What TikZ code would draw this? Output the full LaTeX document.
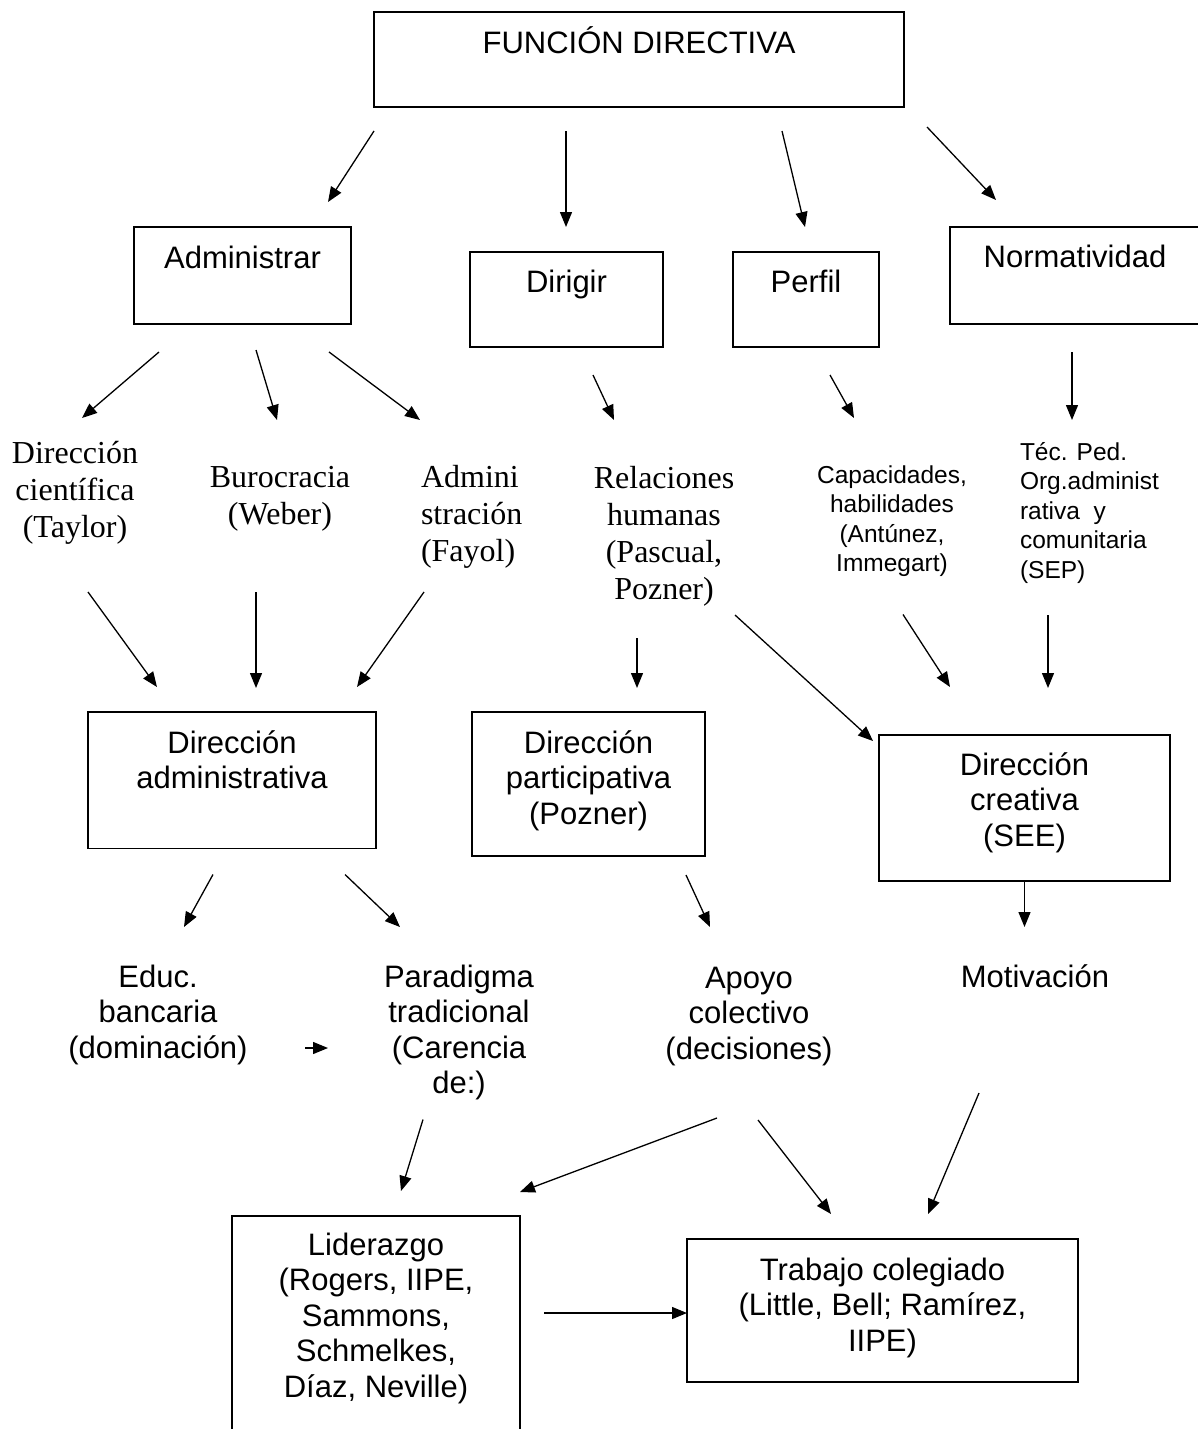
\documentclass[tikz,border=0pt]{standalone}
\usepackage{fontspec}
\setmainfont{Liberation Sans}
\newfontfamily\seriffam{Liberation Serif}
\usetikzlibrary{arrows.meta,calc}
\newcommand\mybig{\fontsize{31}{35.5}\selectfont}
\newcommand\mysmall{\fontsize{24.5}{29.5}\selectfont}
\newcommand\myserif{\seriffam\fontsize{32}{37}\selectfont}
\newcommand\tA[1]{\rule{0pt}{#1pt}}
\newcommand\bD[1]{\rule[-#1pt]{0pt}{#1pt}}
\begin{document}
\begin{tikzpicture}[x=1pt,y=-1pt,
  box/.style={draw, line width=1.6pt, inner sep=0pt, outer sep=0pt, align=center, anchor=north west, font=\mybig},
  txt/.style={inner sep=0pt, outer sep=0pt, align=center, anchor=north},
  arr/.style={line width=1.3pt, -{Triangle[length=15pt,width=12pt]}}]
\fill[white] (0,0) rectangle (1197,1429);
\useasboundingbox (0,0) rectangle (1197,1429);

% boxes
\node[box, minimum width=530pt] (fd) at (374,12) {\tA{41}FUNCIÓN DIRECTIVA\bD{54}};
\node[box, minimum width=217pt] (adm) at (134,227) {\tA{41}Administrar\bD{56}};
\node[box, minimum width=193pt] (dir) at (470,252) {\tA{40}Dirigir\bD{55}};
\node[box, minimum width=146pt] (per) at (733,252) {\tA{40}Perfil\bD{55}};
\node[box, minimum width=250pt] (nor) at (950,227) {\tA{40}Normatividad\bD{57}};
\node[box, minimum width=288pt] (dadm) at (88,712) {\tA{41}Dirección\\administrativa\bD{60}};
\node[box, minimum width=233pt] (dpar) at (472,712) {\tA{41}Dirección\\participativa\\(Pozner)\bD{32}};
\node[box, minimum width=291pt] (dcre) at (879,735) {\tA{40}Dirección\\creativa\\(SEE)\bD{35}};
\node[box, minimum width=288pt] (lid) at (232,1216) {\tA{39}Liderazgo\\(Rogers, IIPE,\\Sammons,\\Schmelkes,\\Díaz, Neville)\bD{50}};
\node[box, minimum width=391pt] (trab) at (687,1239) {\tA{41}Trabajo colegiado\\(Little, Bell; Ramírez,\\IIPE)\bD{31}};

% free texts
\node[txt, font=\myserif] (taylor) at (75,433) {\tA{30}Dirección\\científica\\(Taylor)\bD{10}};
\node[txt, font=\myserif] (weber) at (280,457) {\tA{30}Burocracia\\(Weber)\bD{10}};
\node[txt, font=\myserif, anchor=north west, align=left] (fayol) at (421,457) {\tA{30}Admini\\stración\\(Fayol)\bD{10}};
\node[txt, font=\myserif] (relac) at (664,458) {\tA{30}Relaciones\\humanas\\(Pascual,\\Pozner)\bD{10}};
\node[txt, font=\mysmall] (capac) at (892,459) {\tA{24}Capacidades,\\habilidades\\(Antúnez,\\Immegart)\bD{8}};
\node[txt, font=\mysmall, anchor=north west, align=left] (tecped) at (1020,436) {\tA{24}Téc. Ped.\\Org.administ\\rativa\ \ y\\comunitaria\\(SEP)\bD{8}};
\node[txt, font=\mybig] (educ) at (158,957) {\tA{30}Educ.\\bancaria\\(dominación)\bD{10}};
\node[txt, font=\mybig] (parad) at (459,957) {\tA{30}Paradigma\\tradicional\\(Carencia\\de:)\bD{10}};
\node[txt, font=\mybig] (apoyo) at (749,958) {\tA{30}Apoyo\\colectivo\\(decisiones)\bD{10}};
\node[txt, font=\mybig] (motiv) at (1035,957) {\tA{30}Motivación\bD{10}};

% connectors
\draw[arr] ($(fd.south west)+(0,24)$) -- ($(adm.north west)+(194,-25)$);
\draw[arr] ($(fd.south west)+(192,24)$) -- ($(dir.north west)+(96,-25)$);
\draw[arr] ($(fd.south west)+(408,24)$) -- ($(per.north west)+(72,-25)$);
\draw[arr] ($(fd.south west)+(553,20)$) -- ($(nor.north west)+(46,-27)$);
\draw[arr] ($(adm.south west)+(25,28)$) -- ($(taylor.north)+(7,-15)$);
\draw[arr] ($(adm.south west)+(122,26)$) -- ($(weber.north)+(-3,-37)$);
\draw[arr] ($(adm.south west)+(195,28)$) -- ($(fayol.north west)+(-1,-37)$);
\draw[arr] ($(dir.south west)+(123,28)$) -- ($(relac.north)+(-50,-38)$);
\draw[arr] ($(per.south west)+(97,28)$) -- ($(capac.north)+(-38,-41)$);
\draw[arr] ($(nor.south west)+(122,28)$) -- ($(tecped.north west)+(52,-16)$);
\draw[arr] ($(taylor.south)+(13,45)$) -- ($(dadm.north west)+(69,-25)$);
\draw[arr] ($(weber.south)+(-24,58)$) -- ($(dadm.north west)+(168,-24)$);
\draw[arr] ($(fayol.south west)+(3,21)$) -- ($(dadm.north west)+(269,-25)$);
\draw[arr] ($(relac.south)+(-27,29)$) -- ($(dpar.north west)+(165,-24)$);
\draw[arr] ($(relac.south)+(71,6)$) -- ($(dcre.north west)+(-6,6)$);
\draw[arr] ($(capac.south)+(11,35)$) -- ($(dcre.north west)+(71,-48)$);
\draw[arr] ($(tecped.south west)+(28,29)$) -- ($(dcre.north west)+(169,-47)$);
\draw[arr] ($(dadm.south west)+(125,26)$) -- ($(educ.north)+(26,-30)$);
\draw[arr] ($(dadm.south west)+(257,26)$) -- ($(parad.north)+(-59,-30)$);
\draw[arr] ($(dpar.south west)+(214,19)$) -- ($(apoyo.north)+(-39,-31)$);
\draw[arr] (dcre.south) -- ($(motiv.north)+(-10.5,-30)$);
\draw[arr] ($(educ.north)+(147,91)$) -- ($(parad.north)+(-131,91)$);
\draw[arr] ($(parad.south)+(-36,16)$) -- ($(lid.north west)+(169,-25)$);
\draw[arr] ($(apoyo.south)+(-32,49)$) -- ($(lid.north west)+(288,-24)$);
\draw[arr] ($(apoyo.south)+(9,51)$) -- ($(trab.north west)+(144,-25)$);
\draw[arr] ($(motiv.south)+(-56,96)$) -- ($(trab.north west)+(241,-25)$);
\draw[arr] ($(lid.north west)+(312,97)$) -- ($(trab.north west)+(0,74)$);
\end{tikzpicture}
\end{document}
